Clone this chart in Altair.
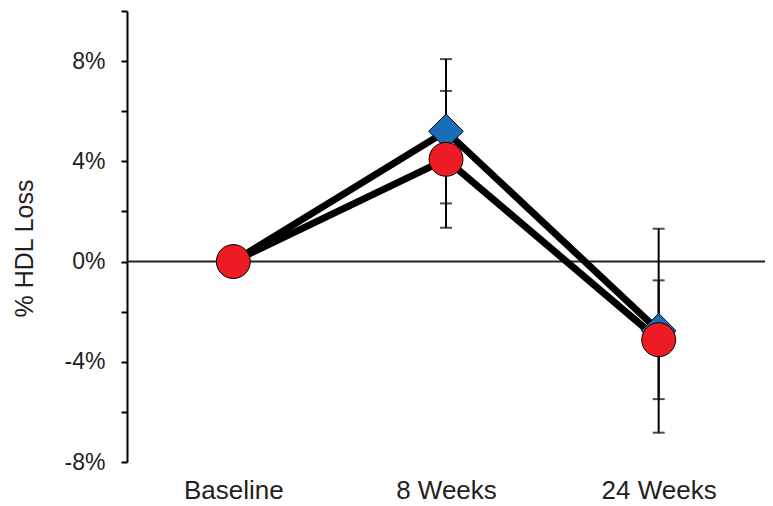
import altair as alt
import pandas as pd

# Time points and mean % HDL change with +/- error for the two groups
weeks = ["Baseline", "8 Weeks", "24 Weeks"]
blue_mean = [0.0, 5.2, -2.76]
blue_err = [0.0, 2.88, 4.07]
red_mean = [0.0, 4.08, -3.12]
red_err = [0.0, 2.73, 2.37]

y_ticks = [-8, -6, -4, -2, 0, 2, 4, 6, 8, 10]

rows = []
for name, means, errs in [("blue", blue_mean, blue_err), ("red", red_mean, red_err)]:
    for w, m, e in zip(weeks, means, errs):
        rows.append({"series": name, "week": w, "value": m,
                     "lo": m - e, "hi": m + e, "err": e})
df = pd.DataFrame(rows)

INK = "#231f20"
FONT = "Liberation Sans"

x_enc = alt.X(
    "week:N", sort=weeks,
    scale=alt.Scale(type="point", padding=0.5),
    axis=alt.Axis(title=None, domain=False, ticks=False, tickSize=0,
                  labelPadding=15, labelFontSize=26, labelAngle=0,
                  labelColor=INK, labelFont=FONT),
)
y_scale = alt.Scale(domain=[-8, 10], nice=False, zero=False)
y_axis = alt.Axis(
    title="% HDL Loss", values=y_ticks,
    labelExpr="datum.value % 4 == 0 ? datum.value + '%' : ''",
    labelFontSize=23, labelFont=FONT, labelColor=INK, labelPadding=16,
    tickSize=6, tickWidth=2, tickColor="black",
    domainColor="black", domainWidth=2, grid=False,
    titleFontSize=25, titleFont=FONT, titleColor=INK,
    titleFontWeight="normal", titleAngle=-90,
    titleX=-95, titleY=237, titleAlign="center",
    titleBaseline="alphabetic",
)


def y_enc(field):
    return alt.Y(field, scale=y_scale, axis=y_axis, title="% HDL Loss")


base = alt.Chart(df)

# zero reference line across the plot
zero = alt.Chart(pd.DataFrame({"v": [0]})).mark_rule(
    color="#222222", strokeWidth=2
).encode(y=y_enc("v:Q"))

lines = base.mark_line(color="black", strokeWidth=7).encode(
    x=x_enc, y=y_enc("value:Q"), detail="series:N",
)

bars_src = base.transform_filter("datum.err > 0")

err_rule = bars_src.mark_rule(color="black", strokeWidth=2).encode(
    x=x_enc, y=y_enc("lo:Q"), y2="hi:Q",
)
cap_lo = bars_src.mark_tick(color="black", thickness=2, size=12).encode(
    x=x_enc, y=y_enc("lo:Q")
)
cap_hi = bars_src.mark_tick(color="black", thickness=2, size=12).encode(
    x=x_enc, y=y_enc("hi:Q")
)

diamonds = base.transform_filter("datum.series == 'blue'").mark_point(
    shape="diamond", filled=True, fill="#1a6eb8", stroke="black",
    strokeWidth=1, size=1200, opacity=1,
).encode(x=x_enc, y=y_enc("value:Q"))

circles = base.transform_filter("datum.series == 'red'").mark_point(
    shape="circle", filled=True, fill="#ed1c24", stroke="black",
    strokeWidth=1, size=1150, opacity=1,
).encode(x=x_enc, y=y_enc("value:Q"))

chart = alt.layer(
    zero, lines, err_rule, cap_lo, cap_hi, diamonds, circles
).properties(
    width=638, height=451,
    autosize=alt.AutoSizeParams(type="none"),
    padding={"left": 127, "top": 11, "right": 8, "bottom": 44},
    background="white",
).configure_view(stroke=None)

chart.save("out.html", embed_options={"renderer": "svg", "actions": False})
